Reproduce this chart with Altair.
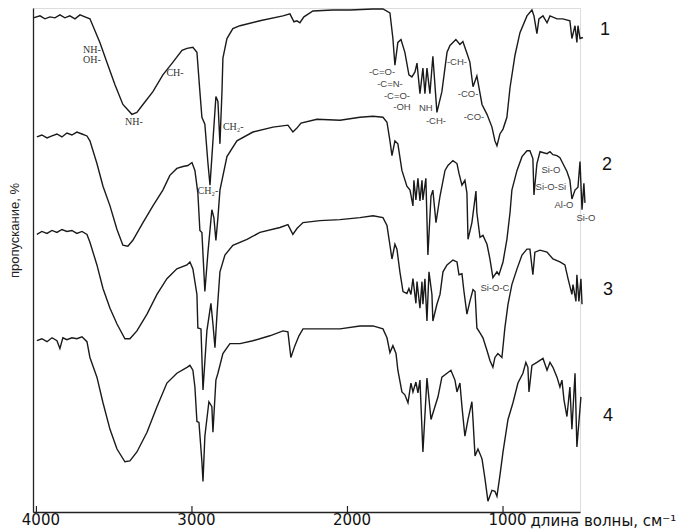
import altair as alt
import pandas as pd

# ---- spectrum 1 (top) ----
wn1 = [4020, 3977, 3945, 3913, 3881, 3849, 3817, 3785, 3752, 3720, 3688, 3656,
       3637, 3592, 3547, 3495, 3444, 3386, 3354, 3315, 3251, 3187, 3122, 3064, 3032, 2994,
       2968, 2949, 2936, 2917, 2897, 2884, 2865, 2846, 2833, 2820, 2807, 2801, 2775, 2737,
       2691, 2563, 2415, 2370, 2344, 2325, 2306, 2280, 2222, 2094, 1984, 1836, 1772, 1727,
       1708, 1695, 1676, 1656, 1631, 1605, 1586, 1566, 1553, 1534, 1515, 1502, 1489, 1470,
       1451, 1425, 1393, 1360, 1341, 1303, 1277, 1258, 1232, 1213, 1193, 1168, 1135, 1103,
       1071, 1052, 1039, 1020, 1000, 975, 955, 923, 891, 846, 814, 801, 782, 769, 743, 717,
       698, 653, 615, 570, 557, 537, 525, 518, 505, 486]
t1 = [502, 504, 501, 503, 502, 505, 502, 504, 501, 505, 503, 501,
      494, 477, 457, 434, 414, 404, 406, 414, 427, 444, 457, 469, 471, 472,
      467, 427, 401, 394, 354, 332, 377, 422, 417, 374, 427, 461, 481, 491,
      494, 499, 504, 506, 498, 499, 497, 503, 509, 510, 510, 511, 511, 507,
      481, 454, 477, 480, 467, 444, 442, 447, 456, 425, 451, 425, 451, 425,
      463, 406, 427, 467, 474, 480, 475, 478, 466, 457, 432, 443, 414, 404,
      391, 377, 372, 384, 389, 401, 431, 464, 487, 504, 510, 504, 486, 501, 504, 497,
      504, 501, 501, 499, 481, 494, 477, 494, 481, 482]

# ---- spectrum 2 ----
wn2 = [3997, 3965, 3932, 3900, 3868, 3836, 3804, 3772, 3740, 3707, 3675, 3656, 3611, 3572,
       3527, 3482, 3444, 3412, 3380, 3315, 3251, 3187, 3142, 3097, 3058, 3026, 3000, 2981,
       2962, 2949, 2936, 2917, 2897, 2872, 2859, 2846, 2833, 2820, 2775, 2711, 2608, 2479,
       2383, 2351, 2325, 2299, 2196, 2048, 1920, 1836, 1772, 1746, 1727, 1714, 1695, 1676,
       1650, 1618, 1598, 1579, 1573, 1560, 1547, 1534, 1521, 1515, 1496, 1483, 1463, 1451,
       1431, 1405, 1373, 1354, 1322, 1296, 1283, 1264, 1245, 1232, 1225, 1200, 1174, 1168,
       1148, 1129, 1103, 1084, 1065, 1039, 1026, 1000, 975, 955, 943, 910, 878, 846, 827,
       808, 801, 782, 762, 717, 698, 679, 653, 634, 615, 589, 570, 557, 537, 518, 505, 492,
       480, 473]
t2 = [381, 383, 380, 382, 384, 381, 385, 383, 386, 384, 382, 377, 354, 331,
      311, 287, 271, 270, 276, 294, 311, 327, 342, 349, 351, 352, 355, 347,
      324, 286, 284, 224, 264, 307, 299, 276, 299, 327, 361, 377, 386, 391,
      393, 386, 390, 395, 399, 398, 401, 402, 401, 396, 377, 362, 377, 374,
      347, 331, 327, 311, 337, 317, 339, 316, 337, 317, 339, 261, 321, 327,
      294, 321, 347, 352, 357, 354, 344, 332, 337, 324, 277, 294, 326, 304,
      279, 281, 272, 257, 238, 244, 241, 254, 277, 304, 327, 347, 361, 367, 367,
      359, 322, 354, 366, 364, 366, 363, 362, 360, 354, 346, 337, 318, 327, 330, 356, 307,
      334, 314]

# ---- spectrum 3 ----
wn3 = [3997, 3965, 3932, 3900, 3868, 3836, 3804, 3772, 3740, 3707, 3675, 3656, 3611, 3572,
       3527, 3482, 3431, 3399, 3354, 3289, 3225, 3161, 3097, 3032, 3013, 2994, 2968, 2962,
       2942, 2929, 2904, 2878, 2865, 2852, 2839, 2820, 2788, 2737, 2646, 2563, 2434, 2383,
       2351, 2325, 2286, 2177, 2048, 1920, 1836, 1772, 1746, 1727, 1714, 1695, 1682, 1663,
       1643, 1618, 1605, 1592, 1579, 1560, 1553, 1534, 1521, 1515, 1502, 1489, 1476, 1457,
       1451, 1425, 1405, 1386, 1360, 1322, 1296, 1283, 1264, 1251, 1232, 1213, 1193, 1180,
       1168, 1148, 1129, 1103, 1084, 1065, 1052, 1033, 1007, 988, 968, 943, 910, 878, 846,
       827, 808, 795, 762, 717, 679, 634, 602, 582, 557, 550, 531, 525, 512, 499, 492]
t3 = [282, 285, 283, 286, 284, 287, 285, 286, 283, 285, 282, 274, 251, 227,
      207, 191, 176, 176, 184, 201, 221, 237, 247, 251, 254, 247, 221, 187,
      186, 124, 184, 212, 191, 167, 201, 244, 261, 271, 277, 284, 289, 292,
      282, 288, 294, 296, 297, 299, 301, 299, 291, 271, 257, 272, 267, 244,
      224, 222, 227, 221, 237, 212, 234, 207, 234, 211, 237, 194, 244, 221,
      194, 211, 221, 244, 251, 256, 254, 241, 242, 224, 201, 214, 226, 224,
      187, 182, 177, 164, 154, 147, 157, 161, 157, 187, 211, 231, 247, 261, 267,
      267, 241, 264, 266, 264, 257, 254, 251, 237, 221, 231, 214, 241, 214, 237, 211]

# ---- spectrum 4 (bottom) ----
wn4 = [3997, 3965, 3932, 3900, 3868, 3849, 3830, 3804, 3772, 3740, 3707, 3675, 3656, 3611,
       3572, 3527, 3482, 3431, 3399, 3354, 3289, 3225, 3161, 3097, 3032, 3013, 2994, 2981,
       2968, 2955, 2936, 2929, 2917, 2891, 2872, 2865, 2846, 2833, 2801, 2756, 2691, 2608,
       2499, 2415, 2383, 2364, 2338, 2312, 2286, 2177, 2048, 1920, 1836, 1772, 1746, 1727,
       1708, 1688, 1676, 1650, 1631, 1611, 1592, 1579, 1560, 1547, 1534, 1515, 1489, 1463,
       1438, 1418, 1393, 1360, 1335, 1309, 1296, 1277, 1264, 1245, 1225, 1200, 1193, 1180,
       1161, 1135, 1116, 1097, 1071, 1052, 1039, 1020, 1000, 968, 936, 904, 872, 853, 840,
       833, 814, 782, 743, 717, 698, 679, 653, 634, 621, 608, 589, 570, 557, 537, 525, 499]
t4 = [174, 176, 173, 177, 174, 166, 177, 175, 177, 176, 178, 173, 157, 137,
      111, 84, 64, 51, 52, 61, 81, 107, 131, 141, 147, 149, 144, 127,
      92, 91, 51, 31, 77, 112, 107, 81, 134, 141, 161, 171, 171, 174,
      179, 184, 183, 157, 169, 179, 186, 186, 186, 189, 189, 186, 177, 162,
      169, 161, 144, 122, 119, 111, 131, 122, 132, 121, 134, 61, 136, 94,
      107, 117, 137, 141, 144, 134, 122, 131, 107, 77, 94, 112, 94, 57,
      64, 54, 34, 11, 22, 21, 16, 37, 61, 94, 111, 131, 141, 152, 147,
      122, 149, 152, 156, 144, 152, 147, 137, 127, 134, 114, 97, 127, 84, 141, 66, 117]

# ---- curve numbers ----
num_text = ["1", "2", "3", "4"]
num_wn = [345, 332, 325, 325]
num_t = [490, 353, 226, 98]

# ---- band assignments (serif, left part) ----
serif_text = ["NH-", "OH-", "CH-", "NH-", "CH\u2082-", "CH\u2082-"]
serif_wn = [3643, 3643, 3109, 3373, 2801, 2897]
serif_t = [469, 459, 446, 396, 391, 326]
serif_align = ["center", "center", "center", "center", "left", "center"]

# ---- band assignments (sans, fingerprint) ----
sans_text = ["-C=O-", "-C=N-", "-C=O-", "-OH", "NH", "-CH-", "-CH-", "-CO-", "-CO-",
             "Si-O", "Si-O-Si", "Al-O", "Si-O", "Si-O-C"]
sans_wn = [1778, 1727, 1682, 1650, 1496, 1431, 1296, 1225, 1187, 692, 692, 608, 467, 1052]
sans_t = [447, 435, 423, 411, 410, 397, 457, 425, 401, 347, 330, 312, 299, 228]

tick_vals = [4000, 3000, 2000, 1000]

rows = []
for s, (w, t) in enumerate([(wn1, t1), (wn2, t2), (wn3, t3), (wn4, t4)]):
    for i, (a, b) in enumerate(zip(w, t)):
        rows.append({"series": s + 1, "idx": i, "wn": a, "T": b})
df = pd.DataFrame(rows)

W, H = 547, 504
xscale = alt.Scale(domain=[505, 4022], reverse=True, nice=False, zero=False)
yscale = alt.Scale(domain=[0, 512], nice=False, zero=False)

xaxis = alt.Axis(values=tick_vals, format="d", grid=False, ticks=False,
                 labelFont="DejaVu Sans", labelFontSize=15, labelColor="#111",
                 labelPadding=0, labelOffset=4, domainColor="#222", domainWidth=1.3,
                 title="длина волны, см\u207b\u00b9", titleFont="DejaVu Sans",
                 titleFontSize=15, titleFontWeight="normal", titleColor="#111",
                 titleAlign="left", titleBaseline="top", titleX=497, titleY=1,
                 labelFlush=False, labelOverlap=False)
yaxis = alt.Axis(labels=False, ticks=False, grid=False, domainColor="#222",
                 domainWidth=1.3, title="пропускание, %", titleFont="Liberation Sans",
                 titleFontSize=13, titleFontWeight="normal", titleColor="#222",
                 titleX=-12, titleY=222, titleBaseline="bottom", titleAngle=270)

lines = alt.Chart(df).mark_line(color="#1a1a1a", strokeWidth=1.4).encode(
    x=alt.X("wn:Q", scale=xscale, axis=xaxis),
    y=alt.Y("T:Q", scale=yscale, axis=yaxis),
    detail="series:N",
    order="idx:Q",
)

ticks = alt.Chart(pd.DataFrame({"wn": tick_vals})).mark_rule(color="#222", strokeWidth=1.2).encode(
    x=alt.X("wn:Q", scale=xscale),
    y=alt.value(H - 6), y2=alt.value(H),
)

nums = alt.Chart(pd.DataFrame({"wn": num_wn, "T": num_t, "txt": num_text})).mark_text(
    font="Liberation Sans", fontSize=18, color="#111", align="center", baseline="middle"
).encode(x=alt.X("wn:Q", scale=xscale), y=alt.Y("T:Q", scale=yscale), text="txt:N")

serif_df = pd.DataFrame({"wn": serif_wn, "T": serif_t, "txt": serif_text, "al": serif_align})
serif_c = alt.Chart(serif_df[serif_df.al == "center"]).mark_text(
    font="Liberation Serif", fontSize=10, color="#333", align="center", baseline="middle"
).encode(x=alt.X("wn:Q", scale=xscale), y=alt.Y("T:Q", scale=yscale), text="txt:N")
serif_l = alt.Chart(serif_df[serif_df.al == "left"]).mark_text(
    font="Liberation Serif", fontSize=10, color="#333", align="left", baseline="middle"
).encode(x=alt.X("wn:Q", scale=xscale), y=alt.Y("T:Q", scale=yscale), text="txt:N")

sans = alt.Chart(pd.DataFrame({"wn": sans_wn, "T": sans_t, "txt": sans_text})).mark_text(
    font="Liberation Sans", fontSize=9.5, color="#444", align="center", baseline="middle"
).encode(x=alt.X("wn:Q", scale=xscale), y=alt.Y("T:Q", scale=yscale), text="txt:N")

chart = alt.layer(lines, ticks, nums, serif_c, serif_l, sans).properties(
    width=W, height=H,
    autosize=alt.AutoSizeParams(type="none"),
    padding={"left": 25, "top": 0, "right": 96, "bottom": 17},
).configure_view(stroke=None).configure(background="white")

chart.save("out.html", embed_options={"renderer": "svg", "actions": False})
